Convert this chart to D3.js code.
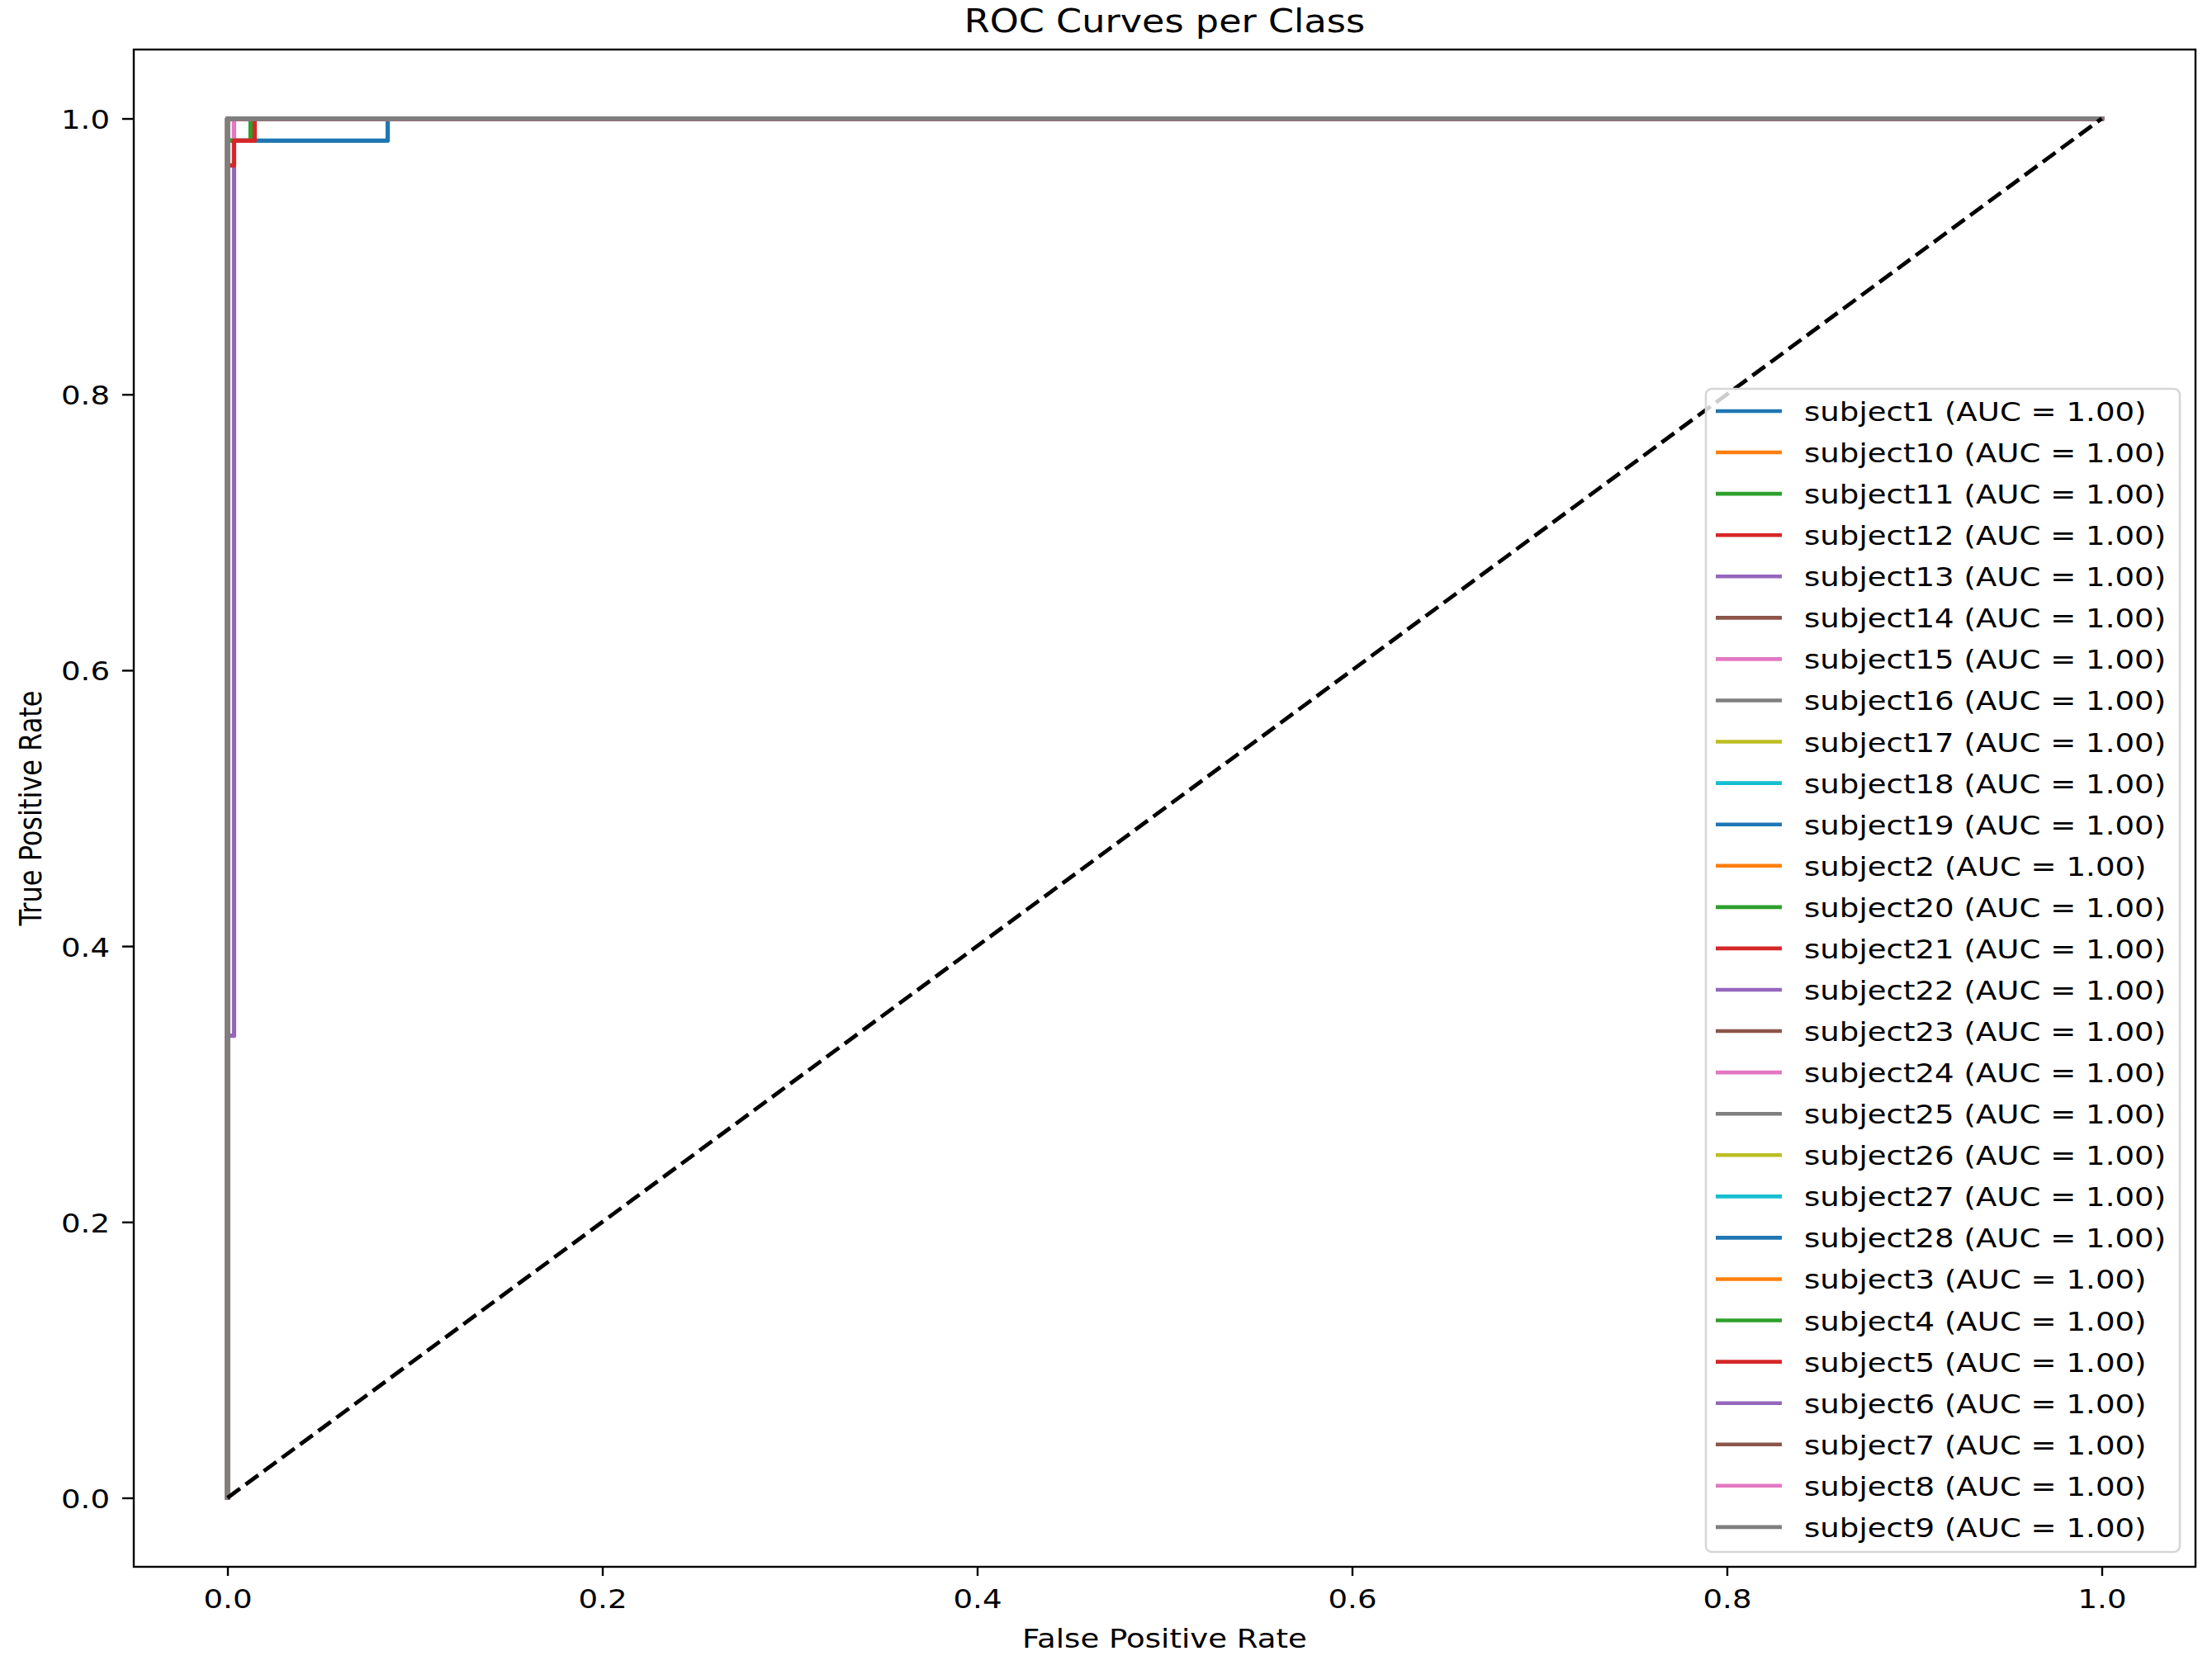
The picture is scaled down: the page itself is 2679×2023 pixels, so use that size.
<!DOCTYPE html>
<html>
<head>
<meta charset="utf-8">
<script src="https://cdn.jsdelivr.net/npm/d3@7"></script>
<style>
  html, body { margin: 0; padding: 0; background: #ffffff; }
  svg { display: block; }
</style>
</head>
<body>
<svg id="chart" width="2679" height="2023"></svg>
<script>
// ---------------- DATA ----------------
const subjects = [
  "subject1","subject10","subject11","subject12","subject13","subject14","subject15",
  "subject16","subject17","subject18","subject19","subject2","subject20","subject21",
  "subject22","subject23","subject24","subject25","subject26","subject27","subject28",
  "subject3","subject4","subject5","subject6","subject7","subject8","subject9"
];
const aucValues = [
  1.00,1.00,1.00,1.00,1.00,1.00,1.00,1.00,1.00,1.00,1.00,1.00,1.00,1.00,
  1.00,1.00,1.00,1.00,1.00,1.00,1.00,1.00,1.00,1.00,1.00,1.00,1.00,1.00
];
// False positive rates per subject (legend order)
const fprValues = [
  [0, 0, 0.0855, 0.0855, 1],            // subject1
  [0, 0, 1],                            // subject10
  [0, 0, 1],                            // subject11
  [0, 0, 1],                            // subject12
  [0, 0, 0.0035, 0.0035, 1],            // subject13
  [0, 0, 1],                            // subject14
  [0, 0, 0.0035, 0.0035, 1],            // subject15
  [0, 0, 1],                            // subject16
  [0, 0, 1],                            // subject17
  [0, 0, 1],                            // subject18
  [0, 0, 1],                            // subject19
  [0, 0, 1],                            // subject2
  [0, 0, 0.0123, 0.0123, 1],            // subject20
  [0, 0, 0.0035, 0.0035, 0.0145, 0.0145, 1], // subject21
  [0, 0, 1],                            // subject22
  [0, 0, 1],                            // subject23
  [0, 0, 1],                            // subject24
  [0, 0, 1],                            // subject25
  [0, 0, 1],                            // subject26
  [0, 0, 1],                            // subject27
  [0, 0, 1],                            // subject28
  [0, 0, 1],                            // subject3
  [0, 0, 1],                            // subject4
  [0, 0, 1],                            // subject5
  [0, 0, 1],                            // subject6
  [0, 0, 1],                            // subject7
  [0, 0, 1],                            // subject8
  [0, 0, 1]                             // subject9
];
// True positive rates per subject (legend order)
const tprValues = [
  [0, 0.984, 0.984, 1, 1],              // subject1
  [0, 1, 1],                            // subject10
  [0, 1, 1],                            // subject11
  [0, 1, 1],                            // subject12
  [0, 0.335, 0.335, 1, 1],              // subject13
  [0, 1, 1],                            // subject14
  [0, 0.984, 0.984, 1, 1],              // subject15
  [0, 1, 1],                            // subject16
  [0, 1, 1],                            // subject17
  [0, 1, 1],                            // subject18
  [0, 1, 1],                            // subject19
  [0, 1, 1],                            // subject2
  [0, 0.984, 0.984, 1, 1],              // subject20
  [0, 0.966, 0.966, 0.984, 0.984, 1, 1],// subject21
  [0, 1, 1],                            // subject22
  [0, 1, 1],                            // subject23
  [0, 1, 1],                            // subject24
  [0, 1, 1],                            // subject25
  [0, 1, 1],                            // subject26
  [0, 1, 1],                            // subject27
  [0, 1, 1],                            // subject28
  [0, 1, 1],                            // subject3
  [0, 1, 1],                            // subject4
  [0, 1, 1],                            // subject5
  [0, 1, 1],                            // subject6
  [0, 1, 1],                            // subject7
  [0, 1, 1],                            // subject8
  [0, 1, 1]                             // subject9
];
const chanceX = [0, 1];
const chanceY = [0, 1];
const xTickValues = [0.0, 0.2, 0.4, 0.6, 0.8, 1.0];
const yTickValues = [0.0, 0.2, 0.4, 0.6, 0.8, 1.0];
const xTickLabels = ["0.0", "0.2", "0.4", "0.6", "0.8", "1.0"];
const yTickLabels = ["0.0", "0.2", "0.4", "0.6", "0.8", "1.0"];
const titleText = "ROC Curves per Class";
const xLabelText = "False Positive Rate";
const yLabelText = "True Positive Rate";
const palette = ["#1f77b4","#ff7f0e","#2ca02c","#d62728","#9467bd",
                 "#8c564b","#e377c2","#7f7f7f","#bcbd22","#17becf"];

// ---------------- LAYOUT ----------------
const W = 2679, H = 2023;
const plot = { left: 162, right: 2659, top: 60, bottom: 1898 };
const FONT = "'DejaVu Sans', 'Liberation Sans', sans-serif";
const FS = 32;          // vertical font size (10pt)
const SX = 1.16;        // horizontal stretch of the reference picture
const TITLE_FS = 38.4;

const svg = d3.select("#chart");
svg.append("rect").attr("width", W).attr("height", H).attr("fill", "#ffffff");

const x = d3.scaleLinear().domain([-0.05, 1.05]).range([plot.left, plot.right]);
const y = d3.scaleLinear().domain([-0.05, 1.05]).range([plot.bottom, plot.top]);

// ---------------- CURVES ----------------
const line = d3.line().x(d => x(d[0])).y(d => y(d[1]));
const gCurves = svg.append("g");
subjects.forEach((s, i) => {
  const pts = fprValues[i].map((f, k) => [f, tprValues[i][k]]);
  gCurves.append("path")
    .attr("d", line(pts))
    .attr("fill", "none")
    .attr("stroke", palette[i % 10])
    .attr("stroke-width", 5.2)
    .attr("stroke-linejoin", "round")
    .attr("stroke-linecap", "square");
});

// chance diagonal
svg.append("path")
  .attr("d", line(chanceX.map((v, k) => [v, chanceY[k]])))
  .attr("fill", "none")
  .attr("stroke", "#000000")
  .attr("stroke-width", 4.8)
  .attr("stroke-dasharray", "19,8.3");

// ---------------- AXES ----------------
const xAxis = d3.axisBottom(x).tickValues(xTickValues)
  .tickFormat((d, i) => xTickLabels[i]).tickSize(11).tickSizeOuter(0);
const gx = svg.append("g").attr("transform", `translate(0,${plot.bottom})`).call(xAxis);
gx.select(".domain").remove();
gx.selectAll(".tick line").attr("stroke", "#000").attr("stroke-width", 2.4);
gx.selectAll(".tick text")
  .attr("font-family", FONT).attr("font-size", FS).attr("fill", "#000")
  .attr("dy", null).attr("y", 50)
  .attr("transform", `scale(${SX},1)`);

const yAxis = d3.axisLeft(y).tickValues(yTickValues)
  .tickFormat((d, i) => yTickLabels[i]).tickSize(14).tickSizeOuter(0);
const gy = svg.append("g").attr("transform", `translate(${plot.left},0)`).call(yAxis);
gy.select(".domain").remove();
gy.selectAll(".tick line").attr("stroke", "#000").attr("stroke-width", 2.4);
gy.selectAll(".tick text")
  .attr("font-family", FONT).attr("font-size", FS).attr("fill", "#000")
  .attr("dy", null).attr("y", 12)
  .attr("x", -29 / SX)
  .attr("transform", `scale(${SX},1)`);

// frame
svg.append("rect")
  .attr("x", plot.left).attr("y", plot.top)
  .attr("width", plot.right - plot.left).attr("height", plot.bottom - plot.top)
  .attr("fill", "none").attr("stroke", "#000").attr("stroke-width", 2.4);

// ---------------- TEXTS ----------------
const midX = (plot.left + plot.right) / 2;
svg.append("text")
  .attr("transform", `translate(${midX},39) scale(${SX},1)`)
  .attr("text-anchor", "middle")
  .attr("font-family", FONT).attr("font-size", TITLE_FS).attr("fill", "#000")
  .text(titleText);

svg.append("text")
  .attr("transform", `translate(${midX},1996) scale(${SX},1)`)
  .attr("text-anchor", "middle")
  .attr("font-family", FONT).attr("font-size", FS).attr("fill", "#000")
  .text(xLabelText);

svg.append("text")
  .attr("transform", `translate(50,${(plot.top + plot.bottom) / 2}) rotate(-90) scale(1,${SX})`)
  .attr("text-anchor", "middle")
  .attr("font-family", FONT).attr("font-size", FS).attr("fill", "#000")
  .text(yLabelText);

// ---------------- LEGEND ----------------
const leg = { x: 2066, y: 471, w: 574, h: 1409, firstRow: 498, pitch: 50.07,
              hx0: 2078, hx1: 2158, tx: 2185 };
const gLeg = svg.append("g");
gLeg.append("rect")
  .attr("x", leg.x).attr("y", leg.y).attr("width", leg.w).attr("height", leg.h)
  .attr("rx", 7).attr("ry", 7)
  .attr("fill", "rgba(255,255,255,0.8)")
  .attr("stroke", "#d6d6d6").attr("stroke-width", 2.6);

subjects.forEach((s, i) => {
  const ry = leg.firstRow + i * leg.pitch;
  gLeg.append("line")
    .attr("x1", leg.hx0).attr("x2", leg.hx1).attr("y1", ry).attr("y2", ry)
    .attr("stroke", palette[i % 10]).attr("stroke-width", 4.6);
  gLeg.append("text")
    .attr("transform", `translate(${leg.tx},${ry + 12}) scale(${SX},1)`)
    .attr("font-family", FONT).attr("font-size", FS).attr("fill", "#000")
    .text(`${s} (AUC = ${aucValues[i].toFixed(2)})`);
});
</script>
</body>
</html>
